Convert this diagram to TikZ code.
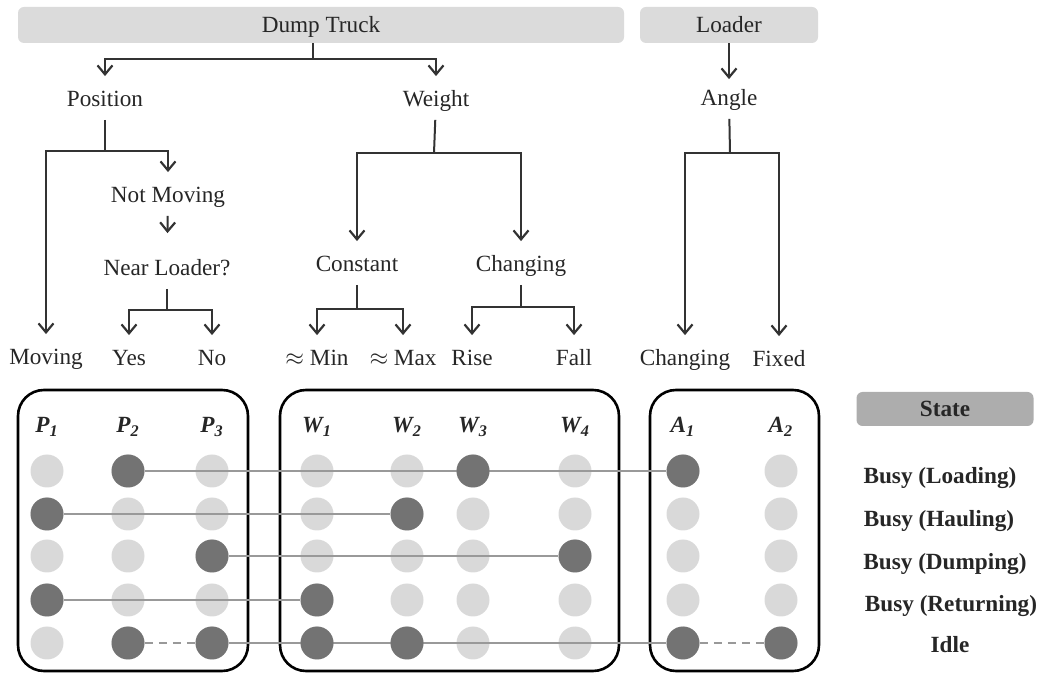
\documentclass[tikz,border=0pt]{standalone}
\usepackage{fontspec}
\setmainfont{Liberation Serif}
\usetikzlibrary{arrows.meta,positioning,calc}
\tikzset{%
   lbl/.style={
      inner sep=4pt,
      text height=8pt,
      text depth=2.5pt,
      font=\fontsize{11.6}{14}\selectfont,
      text=black!85
   },
   bar/.style={
      lbl,
      text depth=0pt,
      fill=black!14,
      rounded corners=3pt,
      minimum height=18pt
   },
   statebox/.style={
      lbl,
      text depth=0pt,
      fill=black!32,
      rounded corners=3pt,
      minimum height=17pt,
      minimum width=88.5pt,
      font=\fontsize{11.6}{14}\selectfont\bfseries
   },
   st/.style={
      lbl,
      font=\fontsize{11.6}{14}\selectfont\bfseries
   },
   hd/.style={
      lbl,
      font=\fontsize{11.6}{14}\selectfont\bfseries\itshape
   },
   ln/.style={
      line width=1pt,
      draw=black!80
   },
   arr/.style={
      ln,
      -{Straight Barb[length=4.5pt,width=7.5pt,line width=1.1pt]},
      shorten >=3pt
   },
   grp/.style={
      draw,
      line width=1.3pt,
      rounded corners=13pt
   },
   lt/.style={
      circle,
      inner sep=0pt,
      minimum size=16.5pt,
      fill=black!15
   },
   dk/.style={
      circle,
      inner sep=0pt,
      minimum size=16.5pt,
      fill=black!55
   },
   link/.style={
      line width=0.9pt,
      draw=black!40
   },
   gap/.style={
      link,
      dash pattern=on 4pt off 3pt
   },
}
\begin{document}
\begin{tikzpicture}[x=0.5pt, y=-0.5pt]
   \useasboundingbox (0,0) rectangle (1045,673);
   \node[bar, minimum width=303pt] (dump) at (321,25) {Dump Truck};
   \node[bar, minimum width=89pt] (load) at (729,25) {Loader};
   \node[lbl] (pos) at (105,101) {Position};
   \node[lbl] (wgt) at (436,101) {Weight};
   \node[lbl] (ang) at (729,100) {Angle};
   \node[lbl] (nmv) at (168,197) {Not Moving};
   \node[lbl] (near) at (167,270) {Near Loader?};
   \node[lbl] (mov) at (46,359) {Moving};
   \node[lbl] (yes) at (129,360) {Yes};
   \node[lbl] (no) at (212,360) {No};
   \node[lbl] (cst) at (357,266) {Constant};
   \node[lbl] (chg) at (521,266) {Changing};
   \node[lbl] (min) at (317,360) {$\approx$ Min};
   \node[lbl] (max) at (403,360) {$\approx$ Max};
   \node[lbl] (rise) at (472,360) {Rise};
   \node[lbl] (fall) at (574,360) {Fall};
   \node[lbl] (achg) at (685,360) {Changing};
   \node[lbl] (fix) at (779,361) {Fixed};
   \coordinate (dj) at (313,59);
   \coordinate (pj) at (105,151);
   \coordinate (nj) at (167,310);
   \coordinate (wj) at (434,153);
   \coordinate (cj) at (357,309);
   \coordinate (gj) at (521,307);
   \coordinate (aj) at (730,153);
   \draw[ln] (dump.south -| dj) -- (dj);
   \draw[arr] (dj) -| (pos);
   \draw[arr] (dj) -| (wgt);
   \draw[ln] (pos) -- (pj);
   \draw[arr] (pj) -| (mov);
   \draw[arr] (pj) -| (nmv);
   \draw[arr, shorten >=9pt] (nmv) -- (near);
   \draw[ln] (near) -- (nj);
   \draw[arr] (nj) -| (yes);
   \draw[arr] (nj) -| (no);
   \draw[ln] (wgt) -- (wj);
   \draw[arr] (wj) -| (cst);
   \draw[arr] (wj) -| (chg);
   \draw[ln] (cst) -- (cj);
   \draw[arr] (cj) -| (min);
   \draw[arr] (cj) -| (max);
   \draw[ln] (chg) -- (gj);
   \draw[arr] (gj) -| (rise);
   \draw[arr] (gj) -| (fall);
   \draw[arr, shorten >=1pt] (load) -- (ang);
   \draw[ln] (ang) -- (aj);
   \draw[arr] (aj) -| (achg);
   \draw[arr] (aj) -| (fix);
   \draw[grp] (18,390) rectangle (248,671);
   \draw[grp] (280,390) rectangle (619,671);
   \draw[grp] (650,390) rectangle (819,671);
   \foreach \c/\x/\l/\s in {p1/47/P/1, p2/128/P/2, p3/212/P/3, w1/317/W/1, w2/407/W/2,
         w3/473/W/3, w4/575/W/4, a1/683/A/1, a2/781/A/2} {
      \node[hd] (h\c) at (\x,427) {\l\textsubscript{\s}};
      \foreach \r/\y in {1/471, 2/514, 3/556, 4/600, 5/643}
         \node[lt] (\c\r) at (\x,\y) {};
   }
   \draw[link] (p21) -- (a11);
   \draw[link] (p12) -- (w22);
   \draw[link] (p33) -- (w43);
   \draw[link] (p14) -- (w14);
   \draw[gap] (p25) -- (p35);
   \draw[link] (p35) -- (a15);
   \draw[gap] (a15) -- (a25);
   \foreach \n in {p21, w31, a11, p12, w22, p33, w43, p14, w14, p25, p35, w15, w25, a15, a25}
      \node[dk] at (\n) {};
   \node[statebox] (state) at (945,409) {State};
   \node[st] (s1) at (940,478) {Busy (Loading)};
   \node[st] (s2) at (939,521) {Busy (Hauling)};
   \node[st] (s3) at (945,564) {Busy (Dumping)};
   \node[st] (s4) at (951,606) {Busy (Returning)};
   \node[st] (s5) at (950,647) {Idle};
\end{tikzpicture}
\end{document}
